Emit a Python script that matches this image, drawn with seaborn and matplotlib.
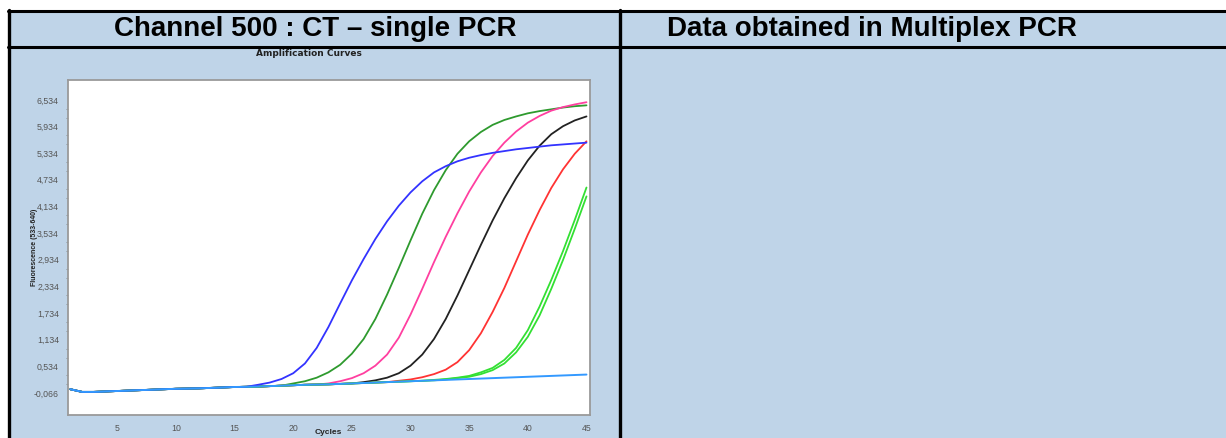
import seaborn as sns
import matplotlib.pyplot as plt
import numpy as np
from matplotlib.patches import Rectangle
from matplotlib.lines import Line2D

# ----------------------------
# Data
# ----------------------------
cycles = list(range(1, 46))

# slowly rising baseline (light blue negative curve), cycles 1..45
baseline = [0.02, -0.04, -0.04, -0.03, -0.02, -0.01, 0.00, 0.01, 0.02, 0.03,
            0.035, 0.04, 0.05, 0.06, 0.07, 0.075, 0.08, 0.09, 0.10, 0.11,
            0.12, 0.125, 0.13, 0.14, 0.15, 0.16, 0.17, 0.18, 0.19, 0.20,
            0.21, 0.22, 0.23, 0.24, 0.25, 0.26, 0.27, 0.28, 0.29, 0.30,
            0.31, 0.32, 0.33, 0.34, 0.35]

# rising part of each curve, starting at the cycle given
blue_start = 17
blue_rise = [0.12, 0.17, 0.25, 0.38, 0.6, 0.95, 1.42, 1.95, 2.47, 2.95, 3.4,
             3.8, 4.15, 4.45, 4.7, 4.9, 5.04, 5.15, 5.23, 5.29, 5.34, 5.38,
             5.42, 5.45, 5.48, 5.51, 5.53, 5.55, 5.57]

green_start = 20
green_rise = [0.15, 0.2, 0.28, 0.4, 0.57, 0.82, 1.15, 1.6, 2.15, 2.75, 3.37,
              3.97, 4.5, 4.95, 5.32, 5.6, 5.81, 5.97, 6.08, 6.16, 6.23,
              6.28, 6.32, 6.36, 6.39, 6.41]

pink_start = 23
pink_rise = [0.15, 0.2, 0.27, 0.38, 0.55, 0.8, 1.18, 1.7, 2.28, 2.88, 3.45,
             3.98, 4.47, 4.9, 5.27, 5.57, 5.82, 6.02, 6.17, 6.29, 6.37, 6.43,
             6.48]

black_start = 26
black_rise = [0.18, 0.22, 0.28, 0.38, 0.55, 0.8, 1.15, 1.6, 2.13, 2.7, 3.27,
              3.82, 4.32, 4.77, 5.17, 5.5, 5.76, 5.94, 6.07, 6.16]

red_start = 29
red_rise = [0.21, 0.24, 0.29, 0.36, 0.46, 0.63, 0.9, 1.28, 1.76, 2.3, 2.9,
            3.5, 4.05, 4.55, 4.97, 5.32, 5.6]

lime1_start = 32
lime1_rise = [0.23, 0.25, 0.28, 0.32, 0.4, 0.5, 0.68, 0.95, 1.35, 1.88, 2.48,
              3.13, 3.83, 4.56]

lime2_start = 32
lime2_rise = [0.22, 0.24, 0.27, 0.3, 0.36, 0.45, 0.6, 0.85, 1.2, 1.68, 2.28,
              2.93, 3.63, 4.36]

ytick_vals = [-0.066, 0.534, 1.134, 1.734, 2.334, 2.934, 3.534, 4.134, 4.734,
              5.334, 5.934, 6.534]
ytick_labels = ["-0,066", "0,534", "1,134", "1,734", "2,334", "2,934", "3,534",
                "4,134", "4,734", "5,334", "5,934", "6,534"]
xtick_vals = [5, 10, 15, 20, 25, 30, 35, 40, 45]

curves = [
    ("#2e9a2e", green_start, green_rise),
    ("#ff3fa0", pink_start, pink_rise),
    ("#222222", black_start, black_rise),
    ("#ff3333", red_start, red_rise),
    ("#33e033", lime1_start, lime1_rise),
    ("#33e033", lime2_start, lime2_rise),
    ("#3333ff", blue_start, blue_rise),
]

# ----------------------------
# Figure / table layout (pixel helpers)
# ----------------------------
W, H = 1226, 438
sns.set_style("white")
plt.rcParams['font.family'] = ['Liberation Sans', 'DejaVu Sans']

fig = plt.figure(figsize=(W / 100, H / 100), dpi=100, facecolor="white")


def fx(x):
    return x / W


def fy(y):
    return 1 - y / H


bg = "#bfd4e8"
fig.patches.append(Rectangle((fx(8), 0), 1, fy(10), transform=fig.transFigure,
                             facecolor=bg, edgecolor="none", zorder=-10))

border = dict(transform=fig.transFigure, color="black", zorder=10)
fig.lines.append(Line2D([fx(8), 1], [fy(11), fy(11)], lw=2.2, **border))
fig.lines.append(Line2D([fx(8), 1], [fy(46.5), fy(46.5)], lw=2.2, **border))
fig.lines.append(Line2D([fx(9), fx(9)], [fy(10), 0], lw=2.4, **border))
fig.lines.append(Line2D([fx(620), fx(620)], [fy(10), 0], lw=2.4, **border))

fig.text(fx(315), fy(29), "Channel 500 : CT \u2013 single PCR", ha="center",
         va="center", fontsize=20, fontweight="bold", color="black")
fig.text(fx(872), fy(29), "Data obtained in Multiplex PCR", ha="center",
         va="center", fontsize=20, fontweight="bold", color="black")

# ----------------------------
# Amplification curves
# ----------------------------
ax = fig.add_axes([fx(68), fy(415), (590 - 68) / W, (415 - 80) / H])
ax.set_facecolor("white")

for color, start, rise in curves:
    vals = baseline[:start - 1] + rise
    sns.lineplot(x=cycles, y=vals, color=color, linewidth=1.3, ax=ax)
sns.lineplot(x=cycles, y=baseline, color="#3399ff", linewidth=1.4, ax=ax)

ax.set_xlim(0.8, 45.3)
ax.set_ylim(-0.56, 6.98)
ax.set_xticks(xtick_vals)
ax.set_yticks(ytick_vals)
ax.set_yticklabels(ytick_labels)
ax.set_yticks(np.arange(-0.066, 6.6, 0.2), minor=True)
ax.tick_params(axis="both", which="major", labelsize=6.3, colors="#555555",
               length=3, width=0.6, direction="out")
ax.tick_params(axis="y", which="minor", length=1.5, width=0.5, color="#777777",
               left=True)
for s in ax.spines.values():
    s.set_color("#9a9a9a")
    s.set_linewidth(1.3)
ax.set_xlabel("")
ax.set_ylabel("")

fig.text(fx(309), fy(53), "Amplification Curves", ha="center", va="center",
         fontsize=6.5, fontweight="bold", family="DejaVu Sans", color="#222222")
fig.text(fx(35), fy(247), "Fluorescence (533-640)", ha="center", va="center",
         rotation=90, fontsize=5, fontweight="bold", color="#222222")
fig.text(fx(328), fy(432), "Cycles", ha="center", va="center",
         fontsize=6, fontweight="bold", color="#222222")

plt.savefig("out.png", dpi=100)
plt.close()
